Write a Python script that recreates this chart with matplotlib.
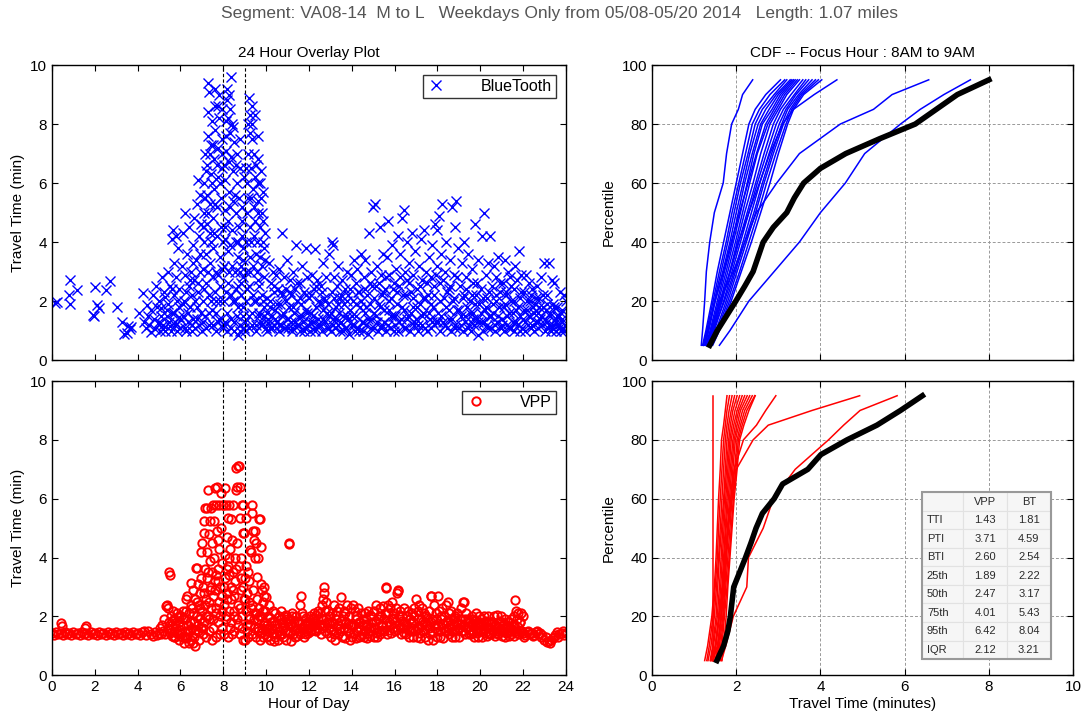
import numpy as np
import matplotlib
matplotlib.use("Agg")
import matplotlib.pyplot as plt

plt.rcParams['font.family'] = ['Liberation Sans', 'DejaVu Sans']

# ---- BlueTooth scatter (hour, travel time in min)
bt_early = [(0.14,1.94),(0.23,1.96),(0.83,2.73),(0.77,2.2),(0.83,1.89),(1.18,2.37),(1.9,1.53),(1.96,1.5),
            (2.02,2.46),(2.12,1.85),(2.19,1.75),(2.54,2.37),(2.71,2.69),(3.04,1.8),(3.27,1.3),(3.36,0.9),
            (3.5,0.92),(3.55,1.15),(3.7,1.13),(3.62,1.05),(4.05,1.58),(4.23,2.28),(4.3,1.3),(4.4,1.1),
            (4.45,1.85),(4.5,1.5)]
bt_morning = [(4.55,1.2),(4.6,0.95),(4.62,1.7),(4.7,2.2),(4.75,1.4),(4.8,1.05),(4.85,2.5),(4.9,1.8),(4.95,1.25),
              (5.0,2.0),(5.05,0.98),(5.1,1.5),(5.15,2.8),(5.2,1.2),(5.25,2.3),(5.3,1.0),(5.35,1.7),(5.4,3.0),
              (5.45,1.3),(5.5,2.5),
              (5.55,1.0),(5.6,4.1),(5.62,1.6),(5.65,4.4),(5.7,2.2),(5.72,3.3),(5.75,1.2),(5.78,4.2),(5.8,2.8),
              (5.85,1.0),(5.9,3.8),(5.92,1.8),(5.95,2.4),(6.0,1.1),(6.05,3.2),(6.1,4.3),(6.12,1.5),(6.15,2.0),
              (6.2,5.0),(6.22,2.9),(6.25,1.0),(6.3,3.6),(6.35,1.3),(6.38,2.5),(6.42,4.5),(6.45,1.8),(6.48,3.0),
              (6.52,1.0),(6.55,2.2),(6.58,3.9),(6.6,1.4),(6.62,4.8),(6.65,2.7),(6.7,1.1),(6.72,3.4),(6.75,5.3),
              (6.78,1.8),(6.8,6.1),(6.82,2.3),(6.85,4.2),(6.88,1.2),(6.9,3.0),(6.92,5.6),(6.95,1.6),(6.98,4.6)]
bt_peak = [(7.02,1.0),(7.04,2.0),(7.06,3.1),(7.08,4.0),(7.1,5.0),(7.12,6.0),(7.14,7.0),(7.16,1.5),(7.18,2.6),
           (7.2,3.6),(7.22,4.6),(7.24,5.6),(7.26,6.6),(7.28,7.6),(7.3,8.4),(7.32,1.2),(7.34,2.2),(7.36,3.3),
           (7.38,4.3),(7.4,5.3),(7.42,6.3),(7.44,7.3),(7.46,8.1),(7.3,9.4),(7.35,9.1),(7.48,1.7),(7.5,2.8),
           (7.52,3.8),(7.54,4.8),(7.56,5.8),(7.58,6.8),(7.6,7.8),(7.62,8.6),(7.64,1.0),(7.66,2.0),(7.68,3.0),
           (7.7,4.2),(7.72,5.2),(7.74,6.2),(7.76,7.2),(7.78,8.2),(7.8,9.0),(7.82,1.4),(7.84,2.5),(7.86,3.5),
           (7.88,4.5),(7.9,5.5),(7.92,6.5),(7.94,7.5),(7.96,8.5),(7.98,1.1),(7.6,9.2),(7.75,2.9),
           (8.02,2.0),(8.04,3.2),(8.06,4.1),(8.08,5.1),(8.1,6.1),(8.12,7.1),(8.14,8.1),(8.16,8.8),(8.18,1.0),
           (8.2,2.6),(8.22,3.7),(8.24,4.7),(8.26,5.7),(8.28,6.7),(8.3,7.7),(8.32,8.5),(8.36,9.6),(8.34,1.4),
           (8.38,2.2),(8.4,3.2),(8.42,4.4),(8.44,5.4),(8.46,6.4),(8.48,7.4),(8.15,9.2),(8.25,9.0),(8.4,8.0),
           (8.1,1.3),
           (8.52,1.0),(8.54,2.0),(8.56,3.0),(8.58,4.0),(8.6,5.0),(8.62,6.0),(8.64,7.0),(8.66,1.5),(8.68,2.5),
           (8.7,3.5),(8.72,4.5),(8.74,5.5),(8.76,6.5),(8.78,7.5),(8.8,1.2),(8.82,2.2),(8.84,3.2),(8.86,4.2),
           (8.88,5.2),(8.9,1.8),(8.92,2.8),(8.94,3.8),(8.96,6.2),(8.98,1.1),(8.7,0.85),
           (9.02,1.0),(9.04,2.0),(9.06,3.0),(9.08,4.0),(9.1,5.0),(9.12,6.0),(9.14,7.0),(9.16,8.0),(9.18,8.9),
           (9.2,1.5),(9.22,2.5),(9.24,3.5),(9.26,4.5),(9.28,5.5),(9.3,6.5),(9.32,7.5),(9.34,8.6),(9.36,1.2),
           (9.38,2.2),(9.4,3.2),(9.42,4.2),(9.44,5.2),(9.46,6.2),(9.48,8.3),(9.35,8.0),(9.45,7.0),
           (9.52,1.0),(9.54,2.0),(9.56,3.0),(9.58,4.0),(9.6,5.0),(9.62,6.0),(9.64,7.6),(9.66,1.5),(9.68,2.5),
           (9.7,3.5),(9.72,4.5),(9.74,5.5),(9.76,6.4),(9.78,1.2),(9.8,2.2),(9.82,3.2),(9.84,4.7),(9.86,5.7),
           (9.88,1.8),(9.9,2.8),(9.92,3.8),(9.95,4.3),(9.98,1.1),(9.6,6.8)]
bt_midday = [(10.02,1.0),(10.05,2.1),(10.09,1.4),(10.12,3.3),(10.16,1.8),(10.2,1.1),(10.23,2.6),(10.27,1.5),
             (10.31,3.0),(10.35,1.2),(10.39,2.3),(10.43,1.7),(10.47,2.9),
             (10.52,1.3),(10.55,2.4),(10.58,1.0),(10.62,3.1),(10.65,1.9),(10.69,1.2),(10.72,4.3),(10.76,2.2),
             (10.8,1.6),(10.84,2.8),(10.88,1.1),(10.92,2.0),(10.96,1.4),(10.99,3.4),
             (11.02,1.1),(11.06,1.8),(11.1,2.7),(11.14,1.3),(11.18,2.2),(11.22,1.0),(11.26,3.0),(11.3,1.6),
             (11.34,2.4),(11.38,3.9),(11.42,1.2),(11.46,2.0),
             (11.52,1.5),(11.56,2.6),(11.6,1.0),(11.64,1.9),(11.68,3.2),(11.72,1.3),(11.76,2.3),(11.8,1.1),
             (11.84,3.8),(11.88,1.7),(11.92,2.8),(11.96,1.2),
             (12.02,2.1),(12.06,1.0),(12.1,1.6),(12.14,2.9),(12.18,1.3),(12.22,2.4),(12.26,1.1),(12.3,3.75),
             (12.34,1.8),(12.38,2.7),(12.42,1.4),(12.46,2.0),
             (12.52,1.2),(12.56,2.5),(12.6,1.0),(12.64,1.7),(12.68,3.3),(12.72,2.1),(12.76,1.3),(12.8,2.8),
             (12.84,1.1),(12.88,1.9),(12.92,3.6),(12.96,1.5),
             (13.02,1.0),(13.06,2.3),(13.1,4.0),(13.12,3.9),(13.14,1.4),(13.18,2.8),(13.22,1.1),(13.26,1.8),
             (13.3,2.5),(13.34,1.2),(13.38,3.2),(13.42,1.6),(13.46,2.1),
             (13.52,1.3),(13.56,2.7),(13.6,1.0),(13.64,1.9),(13.68,2.4),(13.72,1.1),(13.76,3.0),(13.8,1.5),
             (13.84,2.2),(13.88,0.9),(13.92,1.7),(13.96,2.9)]
bt_afternoon = [(14.02,1.2),(14.06,2.0),(14.1,3.4),(14.14,1.0),(14.18,2.6),(14.22,1.5),(14.26,3.1),(14.3,1.1),
                (14.34,2.3),(14.38,1.8),(14.42,3.6),(14.46,1.3),
                (14.52,1.0),(14.56,2.8),(14.6,1.6),(14.64,3.4),(14.68,1.2),(14.72,2.2),(14.76,0.9),(14.8,4.3),
                (14.84,1.9),(14.88,3.0),(14.92,1.4),(14.96,2.5),(14.98,5.2),
                (15.02,1.1),(15.06,2.1),(15.1,5.3),(15.14,1.5),(15.18,3.2),(15.22,1.0),(15.26,2.6),(15.3,4.5),
                (15.34,1.8),(15.38,2.9),(15.42,1.2),(15.46,3.6),(15.48,2.3),
                (15.52,1.3),(15.56,2.4),(15.6,1.0),(15.64,3.5),(15.68,4.7),(15.72,1.7),(15.76,2.9),(15.8,1.1),
                (15.84,2.1),(15.88,3.9),(15.92,1.5),(15.96,2.6),(15.98,1.0),
                (16.02,1.2),(16.06,3.1),(16.1,1.9),(16.14,4.2),(16.18,1.0),(16.22,2.5),(16.26,3.6),(16.3,1.4),
                (16.34,4.8),(16.38,2.2),(16.42,5.1),(16.46,1.7),(16.48,3.0),
                (16.52,1.1),(16.56,2.7),(16.6,4.0),(16.64,1.5),(16.68,3.3),(16.72,1.0),(16.76,2.3),(16.8,4.3),
                (16.84,1.8),(16.88,2.9),(16.92,1.2),(16.96,3.7),
                (17.02,1.4),(17.06,2.4),(17.1,1.0),(17.14,3.2),(17.18,1.9),(17.22,4.1),(17.26,1.2),(17.3,2.7),
                (17.34,1.6),(17.38,4.4),(17.42,2.1),(17.46,3.0),
                (17.52,1.0),(17.56,2.2),(17.6,3.5),(17.64,1.4),(17.68,2.8),(17.72,1.1),(17.76,3.9),(17.8,1.8),
                (17.84,2.5),(17.88,4.6),(17.92,1.3),(17.96,3.2),(17.98,4.4)]
bt_evening = [(18.02,1.6),(18.06,4.9),(18.1,1.0),(18.14,2.6),(18.18,3.6),(18.22,5.3),(18.26,1.3),(18.3,2.1),
              (18.34,3.0),(18.38,1.8),(18.42,4.0),(18.46,1.1),
              (18.52,2.4),(18.56,1.4),(18.6,3.4),(18.64,1.0),(18.68,5.2),(18.72,2.0),(18.76,2.9),(18.8,1.2),
              (18.84,4.5),(18.88,5.4),(18.92,1.7),(18.96,3.8),
              (19.02,1.1),(19.06,2.5),(19.1,1.5),(19.14,3.3),(19.18,1.0),(19.22,2.2),(19.26,4.0),(19.3,1.3),
              (19.34,2.8),(19.38,1.8),(19.42,3.6),(19.46,1.2),
              (19.52,2.0),(19.56,1.0),(19.6,3.1),(19.64,1.6),(19.68,2.6),(19.72,1.2),(19.76,4.6),(19.8,2.2),
              (19.84,1.4),(19.88,3.4),(19.92,0.85),(19.96,1.9),
              (20.02,1.3),(20.06,2.4),(20.1,4.2),(20.14,1.0),(20.18,5.0),(20.22,1.7),(20.26,2.9),(20.3,1.2),
              (20.34,2.1),(20.38,3.3),(20.42,1.5),(20.46,4.2),
              (20.52,1.1),(20.56,2.5),(20.6,1.6),(20.64,3.2),(20.68,1.0),(20.72,2.0),(20.76,2.8),(20.8,1.3),
              (20.84,3.5),(20.88,1.8),(20.92,2.3),(20.96,1.1),
              (21.02,1.4),(21.06,2.6),(21.1,1.0),(21.14,3.4),(21.18,1.9),(21.22,2.3),(21.26,1.2),(21.3,3.0),
              (21.34,1.6),(21.38,2.8),(21.42,1.1),(21.46,2.0),
              (21.52,1.3),(21.56,2.4),(21.6,1.0),(21.64,3.2),(21.68,1.7),(21.72,2.7),(21.76,1.2),(21.8,3.7),
              (21.84,2.1),(21.88,1.5),(21.92,2.9),(21.96,1.1),
              (22.02,1.4),(22.06,2.3),(22.1,1.0),(22.14,2.9),(22.18,1.7),(22.22,1.2),(22.26,2.6),(22.3,1.5),
              (22.34,2.0),(22.38,1.1),(22.42,2.4),(22.46,1.8),
              (22.52,1.0),(22.56,1.9),(22.6,1.3),(22.64,2.5),(22.68,1.6),(22.72,1.1),(22.76,2.1),(22.8,1.4),
              (22.84,2.8),(22.88,1.2),(22.92,1.8),(22.96,3.3),
              (23.02,1.0),(23.06,1.7),(23.1,1.3),(23.14,2.2),(23.18,1.1),(23.22,3.3),(23.26,1.5),(23.3,1.0),
              (23.34,2.7),(23.38,1.9),(23.42,1.2),(23.46,2.6),
              (23.52,1.4),(23.56,1.0),(23.6,1.8),(23.64,1.2),(23.68,1.5),(23.72,2.3),(23.76,1.0),(23.8,1.3),
              (23.84,1.7),(23.88,1.1),(23.92,2.2),(23.96,1.2),(23.99,2.0)]
# dense core of the cloud
bt_core = [(5.03,1.25),(5.11,1.75),(5.19,1.05),(5.27,2.15),(5.35,1.5),(5.43,1.9),(5.52,1.15),(5.6,2.4),(5.68,1.6),
           (5.76,1.3),(5.84,2.0),(5.92,1.45),
           (6.03,1.35),(6.11,1.9),(6.19,1.1),(6.27,2.3),(6.35,1.6),(6.43,2.7),(6.52,1.2),(6.6,3.3),(6.68,2.0),
           (6.76,1.4),(6.84,2.6),(6.92,3.6),
           (7.03,1.3),(7.11,2.4),(7.19,1.1),(7.27,3.0),(7.35,1.6),(7.43,2.0),(7.52,1.2),(7.6,2.3),(7.68,1.6),
           (7.76,1.3),(7.84,2.0),(7.92,3.1),(7.05,4.5),(7.13,5.5),(7.21,6.4),(7.29,5.0),(7.37,7.0),(7.45,6.0),
           (7.53,7.3),(7.61,5.3),(7.69,6.6),(7.77,8.6),(7.85,6.0),(7.93,7.0),(7.97,4.0),(7.41,4.0),(7.57,4.3),
           (8.03,1.2),(8.11,2.3),(8.19,1.6),(8.27,3.0),(8.35,1.1),(8.43,2.0),(8.52,1.3),(8.6,2.4),(8.68,1.8),
           (8.76,1.0),(8.84,2.6),(8.92,1.5),(8.05,6.6),(8.13,7.6),(8.21,8.2),(8.29,5.2),(8.37,6.9),(8.45,7.9),
           (8.53,5.6),(8.61,6.6),(8.69,4.0),(8.77,3.0),(8.85,4.7),(8.93,3.4),(8.1,4.5),(8.33,3.9),
           (9.03,1.3),(9.11,2.4),(9.19,1.1),(9.27,3.0),(9.35,1.6),(9.43,2.0),(9.52,1.2),(9.6,2.7),(9.68,1.6),
           (9.76,1.3),(9.84,2.0),(9.92,1.5),(9.07,6.5),(9.15,5.5),(9.23,7.7),(9.31,4.0),(9.39,5.8),(9.47,4.7),
           (9.55,6.6),(9.63,5.4),(9.71,6.0),(9.79,5.0),(9.87,4.0),(9.95,3.4),(9.27,8.3),(9.51,3.6),
           (10.03,1.6),(10.11,1.25),(10.19,2.0),(10.27,1.1),(10.35,2.5),(10.43,1.4),(10.52,1.9),(10.6,1.2),
           (10.68,2.3),(10.76,1.5),(10.84,1.1),(10.92,2.4),
           (11.03,1.4),(11.11,2.3),(11.19,1.1),(11.27,1.8),(11.35,1.3),(11.43,2.6),(11.52,1.2),(11.6,2.1),
           (11.68,1.5),(11.76,1.0),(11.84,2.2),(11.92,1.6),
           (12.03,1.3),(12.11,2.2),(12.19,1.5),(12.27,1.0),(12.35,2.5),(12.43,1.2),(12.52,1.9),(12.6,2.3),
           (12.68,1.4),(12.76,2.0),(12.84,1.6),(12.92,1.1),
           (13.03,1.6),(13.11,1.2),(13.19,2.1),(13.27,1.4),(13.35,1.9),(13.43,1.0),(13.52,2.2),(13.6,1.5),
           (13.68,1.1),(13.76,2.0),(13.84,1.4),(13.92,2.4),
           (14.03,1.5),(14.11,1.2),(14.19,1.9),(14.27,2.3),(14.35,1.0),(14.43,2.0),(14.52,1.3),(14.6,2.4),
           (14.68,1.8),(14.76,1.4),(14.84,2.6),(14.92,1.1),
           (15.03,1.6),(15.11,2.5),(15.19,1.3),(15.27,1.9),(15.35,1.1),(15.43,2.2),(15.52,1.7),(15.6,2.8),
           (15.68,1.2),(15.76,2.0),(15.84,1.5),(15.92,2.4),
           (16.03,1.5),(16.11,2.3),(16.19,1.3),(16.27,2.8),(16.35,1.8),(16.43,1.1),(16.52,2.2),(16.6,1.4),
           (16.68,2.6),(16.76,1.6),(16.84,2.1),(16.92,1.3),
           (17.03,1.8),(17.11,1.2),(17.19,2.5),(17.27,1.5),(17.35,2.1),(17.43,1.1),(17.52,2.6),(17.6,1.6),
           (17.68,1.9),(17.76,1.3),(17.84,2.2),(17.92,2.9),
           (18.03,1.3),(18.11,2.0),(18.19,1.5),(18.27,2.7),(18.35,1.2),(18.43,2.3),(18.52,1.7),(18.6,2.5),
           (18.68,1.4),(18.76,2.1),(18.84,1.1),(18.92,2.8),
           (19.03,1.7),(19.11,1.2),(19.19,2.1),(19.27,1.5),(19.35,2.4),(19.43,1.1),(19.52,1.6),(19.6,2.2),
           (19.68,1.4),(19.76,1.9),(19.84,2.6),(19.92,1.3),
           (20.03,1.6),(20.11,2.1),(20.19,1.3),(20.27,1.8),(20.35,1.1),(20.43,2.3),(20.52,1.5),(20.6,1.9),
           (20.68,1.2),(20.76,2.2),(20.84,1.5),(20.92,2.6),
           (21.03,1.2),(21.11,1.8),(21.19,2.2),(21.27,1.5),(21.35,1.1),(21.43,2.5),(21.52,1.6),(21.6,2.0),
           (21.68,1.3),(21.76,1.8),(21.84,1.0),(21.92,2.3),
           (22.03,1.7),(22.11,1.3),(22.19,2.0),(22.27,1.5),(22.35,2.2),(22.43,1.2),(22.52,1.6),(22.6,2.1),
           (22.68,1.3),(22.76,1.8),(22.84,1.5),(22.92,2.2),
           (23.03,1.4),(23.11,1.9),(23.19,1.2),(23.27,1.6),(23.35,1.1),(23.43,1.8),(23.52,1.3),(23.6,1.5),
           (23.68,1.1),(23.76,1.6),(23.84,1.4),(23.92,1.0)]

# ---- VPP scatter (hour, travel time in min)
vpp_night = [(0.0,1.42),(0.1,1.38),(0.2,1.46),(0.3,1.4),(0.4,1.44),(0.5,1.38),(0.6,1.46),(0.7,1.4),(0.8,1.44),
             (0.9,1.38),(1.0,1.46),(1.1,1.4),(1.2,1.44),(1.3,1.38),(1.4,1.46),(1.5,1.4),(1.6,1.44),(1.7,1.38),
             (1.8,1.46),(1.9,1.4),(2.0,1.44),(2.1,1.38),(2.2,1.46),(2.3,1.4),(2.4,1.44),(2.5,1.38),(2.6,1.46),
             (2.7,1.4),(2.8,1.44),(2.9,1.38),(3.0,1.46),(3.1,1.4),(3.2,1.44),(3.3,1.38),(3.4,1.46),(3.5,1.4),
             (3.6,1.44),(3.7,1.38),(3.8,1.46),(3.9,1.4),(4.0,1.44),(4.1,1.38),(4.2,1.46),(4.3,1.5),(4.4,1.36),
             (4.5,1.52),(4.6,1.4),(4.7,1.34),(4.8,1.48),(4.9,1.38),(0.4,1.78),(0.45,1.68),(1.57,1.68),(1.55,1.62)]
vpp_morning = [(5.0,1.45),(5.05,1.6),(5.1,1.4),(5.15,1.7),(5.2,1.5),(5.25,1.9),(5.3,1.4),(5.32,2.35),(5.36,2.4),
               (5.4,1.6),(5.42,2.3),(5.45,1.8),(5.48,3.5),(5.5,3.4),(5.5,1.45),(5.55,2.0),(5.6,1.35),(5.62,1.7),
               (5.65,2.2),(5.7,1.5),(5.72,1.9),(5.75,1.3),(5.8,1.6),(5.85,2.1),(5.9,1.4),(5.92,1.8),(5.95,1.2),
               (6.0,1.55),(6.02,2.0),(6.05,1.3),(6.1,1.7),(6.12,2.2),(6.15,1.1),(6.2,1.5),(6.22,1.9),(6.25,2.6),
               (6.3,1.3),(6.32,2.7),(6.35,1.7),(6.4,1.1),(6.42,2.1),(6.45,1.5),(6.48,2.4),(6.5,3.15),(6.5,1.2),
               (6.52,1.6),(6.55,2.3),(6.58,1.1),(6.6,2.9),(6.62,1.8),(6.65,1.3),(6.68,2.6),(6.7,1.0),(6.72,3.65),
               (6.75,3.65),(6.78,2.0),(6.8,1.5),(6.82,3.1),(6.85,2.4),(6.88,1.2),(6.9,1.9),(6.92,2.8),(6.95,4.2),
               (6.98,1.6),(6.97,3.3)]
vpp_peak = [(7.0,4.5),(7.02,2.2),(7.04,1.4),(7.06,3.0),(7.08,4.85),(7.1,5.25),(7.12,1.8),(7.14,3.6),(7.16,5.7),
            (7.18,2.6),(7.2,1.3),(7.22,4.2),(7.24,5.7),(7.26,3.3),(7.28,2.0),(7.3,6.3),(7.32,4.8),(7.34,1.5),
            (7.36,2.9),(7.38,5.25),(7.4,3.9),(7.42,5.7),(7.44,2.3),(7.46,1.2),(7.48,4.5),(7.49,3.5),(7.15,2.4),
            (7.35,1.9),
            (7.5,5.8),(7.52,2.7),(7.54,1.6),(7.56,4.0),(7.58,5.25),(7.6,6.35),(7.62,3.2),(7.64,1.3),(7.66,2.1),
            (7.68,5.8),(7.7,4.9),(7.72,6.4),(7.74,3.6),(7.76,1.8),(7.78,2.5),(7.8,5.8),(7.82,4.3),(7.84,1.4),
            (7.86,3.0),(7.88,5.0),(7.9,6.2),(7.92,2.2),(7.94,3.8),(7.96,1.6),(7.98,5.8),(7.75,4.6),(7.65,3.4),
            (8.0,5.8),(8.02,2.4),(8.04,1.4),(8.06,4.1),(8.08,6.35),(8.1,3.3),(8.12,5.8),(8.14,1.9),(8.16,2.8),
            (8.18,4.7),(8.2,5.35),(8.22,1.3),(8.24,3.7),(8.26,5.8),(8.28,2.2),(8.3,4.3),(8.32,1.6),(8.34,3.0),
            (8.36,5.3),(8.38,2.6),(8.4,4.6),(8.42,1.4),(8.44,3.5),(8.46,5.8),(8.48,2.0),(8.25,4.0),(8.15,3.6),
            (8.5,2.7),(8.52,1.5),(8.54,4.0),(8.56,3.2),(8.58,6.3),(8.6,7.05),(8.62,1.9),(8.64,4.5),(8.66,6.4),
            (8.68,7.1),(8.7,2.4),(8.72,3.7),(8.74,7.1),(8.76,1.4),(8.78,6.4),(8.8,5.35),(8.82,2.9),(8.84,3.3),
            (8.86,5.8),(8.88,2.0),(8.9,4.85),(8.92,1.2),(8.94,5.8),(8.96,4.85),(8.98,2.6),(8.85,1.6),
            (9.0,3.3),(9.02,1.2),(9.04,2.2),(9.06,5.35),(9.08,3.7),(9.1,1.7),(9.12,2.8),(9.14,3.5),(9.16,1.3),
            (9.18,2.5),(9.2,3.2),(9.22,1.9),(9.25,4.25),(9.28,2.3),(9.3,4.2),(9.32,1.4),(9.34,5.8),(9.36,5.5),
            (9.38,2.9),(9.4,4.9),(9.42,4.6),(9.44,1.6),(9.46,4.0),(9.48,2.1),(9.5,4.9),
            (9.52,4.5),(9.54,1.3),(9.56,2.6),(9.58,3.35),(9.6,1.9),(9.62,4.0),(9.64,1.5),(9.66,5.3),(9.68,2.3),
            (9.7,5.3),(9.72,1.2),(9.74,3.1),(9.76,2.0),(9.78,4.35),(9.8,1.6),(9.82,2.9),(9.84,1.3),(9.86,2.5),
            (9.88,3.0),(9.9,1.8),(9.92,2.7),(9.94,1.4),(9.96,2.2),(9.98,2.65),(10.0,1.5)]
vpp_midday = [(10.03,1.3),(10.07,2.0),(10.11,1.6),(10.15,2.4),(10.19,1.2),(10.23,1.8),(10.27,1.45),(10.31,2.2),
              (10.35,1.15),(10.39,1.7),(10.43,2.1),(10.47,1.4),
              (10.53,1.6),(10.57,1.2),(10.61,2.0),(10.65,1.4),(10.69,2.2),(10.73,1.8),(10.77,1.3),(10.81,1.6),
              (10.85,2.0),(10.89,1.5),(10.93,1.2),(10.97,1.9),
              (11.03,1.5),(11.05,4.45),(11.07,4.5),(11.1,1.9),(11.14,1.15),(11.18,1.7),(11.22,2.1),(11.26,1.4),
              (11.3,1.8),(11.34,1.3),(11.38,2.0),(11.42,1.6),(11.46,1.35),
              (11.52,1.8),(11.56,1.4),(11.6,2.4),(11.64,2.7),(11.68,1.6),(11.72,2.0),(11.76,1.3),(11.8,1.7),
              (11.84,1.95),(11.88,1.5),(11.92,1.8),(11.96,1.45),
              (12.02,1.6),(12.06,2.0),(12.1,1.5),(12.14,1.9),(12.18,1.7),(12.22,2.1),(12.26,1.55),(12.3,1.85),
              (12.34,2.05),(12.38,1.6),(12.42,1.9),(12.46,1.7),
              (12.52,2.1),(12.56,1.4),(12.6,2.4),(12.64,1.7),(12.68,2.6),(12.7,3.0),(12.72,2.8),(12.76,1.5),
              (12.8,2.5),(12.84,1.8),(12.88,2.2),(12.92,1.6),(12.96,2.0),
              (13.02,1.3),(13.06,1.8),(13.1,2.1),(13.14,1.5),(13.18,2.4),(13.22,1.2),(13.26,1.9),(13.3,2.2),
              (13.34,1.4),(13.38,1.7),(13.42,2.3),(13.46,1.6),(13.5,2.65),
              (13.54,1.3),(13.58,2.0),(13.62,1.6),(13.66,2.2),(13.7,1.25),(13.74,1.8),(13.78,2.4),(13.82,1.5),
              (13.86,2.0),(13.9,1.2),(13.94,1.7),(13.98,2.3),
              (14.02,1.3),(14.06,2.4),(14.1,1.7),(14.14,2.2),(14.18,1.25),(14.22,1.9),(14.26,1.5),(14.3,2.3),
              (14.34,1.3),(14.38,1.8),(14.42,2.1),(14.46,1.4),
              (14.52,1.7),(14.56,1.3),(14.6,2.1),(14.64,1.5),(14.68,1.9),(14.72,1.25),(14.76,2.2),(14.8,1.6),
              (14.84,1.35),(14.88,2.0),(14.92,1.5),(14.96,1.8),
              (15.02,1.3),(15.06,2.2),(15.1,1.6),(15.14,2.4),(15.18,1.3),(15.22,1.9),(15.26,1.5),(15.3,2.3),
              (15.34,1.4),(15.38,2.0),(15.42,1.7),(15.46,2.35),
              (15.52,1.5),(15.56,2.1),(15.6,3.0),(15.62,2.95),(15.66,1.4),(15.7,2.4),(15.74,1.8),(15.78,2.3),
              (15.82,1.45),(15.86,1.9),(15.9,2.5),(15.94,1.6),(15.98,2.1)]
vpp_evening = [(16.02,1.5),(16.06,2.3),(16.1,2.8),(16.14,2.9),(16.18,2.85),(16.22,1.7),(16.26,2.2),(16.3,1.4),
               (16.34,2.0),(16.38,1.6),(16.42,2.3),(16.46,1.8),
               (16.52,1.4),(16.56,2.0),(16.6,1.7),(16.64,2.2),(16.68,1.3),(16.72,1.9),(16.76,1.5),(16.8,2.1),
               (16.84,1.3),(16.88,1.8),(16.92,2.3),(16.96,1.5),(17.0,2.6),
               (17.04,1.3),(17.08,2.2),(17.12,1.6),(17.16,2.4),(17.2,1.25),(17.24,1.9),(17.28,2.3),(17.32,1.5),
               (17.36,2.1),(17.4,1.3),(17.44,1.8),(17.48,2.0),
               (17.52,1.7),(17.56,1.2),(17.6,2.2),(17.64,1.4),(17.68,2.7),(17.72,2.7),(17.76,1.9),(17.8,1.2),
               (17.84,2.4),(17.88,1.6),(17.92,2.1),(17.96,1.3),
               (18.02,2.7),(18.04,1.5),(18.08,2.2),(18.12,1.3),(18.16,1.9),(18.2,2.3),(18.24,1.6),(18.28,1.25),
               (18.32,2.0),(18.36,1.5),(18.4,2.4),(18.44,1.8),(18.48,2.5),
               (18.52,1.4),(18.56,2.1),(18.6,1.7),(18.64,2.2),(18.68,1.3),(18.72,1.9),(18.76,1.5),(18.8,2.0),
               (18.84,1.3),(18.88,1.8),(18.92,2.1),(18.96,1.6),
               (19.02,1.3),(19.06,1.9),(19.1,2.3),(19.14,1.5),(19.18,2.5),(19.22,2.5),(19.26,1.7),(19.3,1.4),
               (19.34,2.1),(19.38,1.6),(19.42,1.9),(19.46,1.4),
               (19.52,1.8),(19.56,1.4),(19.6,2.0),(19.64,1.5),(19.68,1.9),(19.72,1.3),(19.76,1.7),(19.8,2.1),
               (19.84,1.45),(19.88,1.8),(19.92,1.3),(19.96,2.0),
               (20.02,1.5),(20.06,1.9),(20.1,1.3),(20.14,1.7),(20.18,2.0),(20.22,1.45),(20.26,1.8),(20.3,1.35),
               (20.34,1.6),(20.38,2.0),(20.42,1.4),(20.46,1.75),
               (20.52,1.4),(20.56,1.8),(20.6,1.5),(20.64,2.0),(20.68,1.35),(20.72,1.7),(20.76,1.5),(20.8,2.05),
               (20.84,1.4),(20.88,1.8),(20.92,1.55),(20.96,2.0),
               (21.02,1.35),(21.06,1.7),(21.1,1.5),(21.14,1.9),(21.18,1.3),(21.22,1.65),(21.26,1.45),(21.3,1.8),
               (21.34,1.35),(21.38,1.6),(21.42,1.9),(21.46,1.5),
               (21.52,1.7),(21.56,1.35),(21.6,2.0),(21.64,2.55),(21.66,2.2),(21.7,1.5),(21.74,1.9),(21.78,2.1),
               (21.82,1.4),(21.86,1.8),(21.9,2.1),(21.94,1.5),(21.98,2.0)]
vpp_late = [(22.0,1.42),(22.1,1.38),(22.2,1.46),(22.3,1.4),(22.4,1.44),(22.5,1.38),(22.6,1.46),(22.7,1.4),
            (22.8,1.44),(22.9,1.38),(23.0,1.2),(23.1,1.12),(23.2,1.15),(23.3,1.2),(23.4,1.25),(23.5,1.38),
            (23.6,1.46),(23.7,1.4),(23.8,1.44),(23.9,1.38),(24.0,1.42),(22.05,1.3),(22.25,1.52),(22.45,1.32),
            (22.65,1.5),(22.85,1.3),(23.05,1.3),(23.25,1.1),(23.45,1.3),(23.65,1.3),(23.85,1.5)]
vpp_core = [(5.53,1.55),(5.6,1.85),(5.68,1.3),(5.76,1.7),(5.84,1.45),(5.92,2.0),
            (6.03,1.4),(6.11,1.9),(6.19,1.25),(6.27,2.2),(6.35,1.5),(6.43,1.8),(6.52,1.35),(6.6,2.1),(6.68,1.55),
            (6.76,2.5),(6.84,1.7),(6.92,2.3),
            (7.03,1.6),(7.11,2.8),(7.19,2.0),(7.27,3.5),(7.35,2.5),(7.43,3.0),(7.52,1.9),(7.6,2.9),(7.68,2.3),
            (7.76,3.2),(7.84,2.0),(7.92,2.7),
            (8.03,3.0),(8.11,2.0),(8.19,2.6),(8.27,3.4),(8.35,1.8),(8.43,2.9),(8.52,2.2),(8.6,3.6),(8.68,1.7),
            (8.76,2.3),(8.84,4.0),(8.92,3.0),
            (9.03,2.6),(9.11,1.5),(9.19,2.0),(9.27,1.7),(9.35,2.4),(9.43,1.9),(9.52,2.1),(9.6,1.6),(9.68,2.0),
            (9.76,1.45),(9.84,2.2),(9.92,1.7),
            (10.03,1.7),(10.11,1.35),(10.19,1.95),(10.27,1.6),(10.35,1.85),(10.43,1.3),(10.52,1.75),(10.6,1.5),
            (10.68,1.9),(10.76,1.4),(10.84,1.7),(10.92,2.05),
            (11.03,1.75),(11.11,1.45),(11.19,2.0),(11.27,1.65),(11.35,1.55),(11.43,1.85),(11.52,1.5),(11.6,1.75),
            (11.68,2.1),(11.76,1.6),(11.84,1.4),(11.92,1.75),
            (12.03,1.8),(12.11,1.55),(12.19,1.95),(12.27,1.7),(12.35,1.5),(12.43,2.2),(12.52,1.75),(12.6,1.6),
            (12.68,1.9),(12.76,2.2),(12.84,1.45),(12.92,1.8),
            (13.03,1.55),(13.11,1.75),(13.19,1.4),(13.27,2.05),(13.35,1.7),(13.43,1.5),(13.52,1.85),(13.6,1.35),
            (13.68,2.1),(13.76,1.6),(13.84,1.75),(13.92,1.45),
            (14.03,1.7),(14.11,1.45),(14.19,2.0),(14.27,1.6),(14.35,1.8),(14.43,1.35),(14.52,1.9),(14.6,1.55),
            (14.68,1.75),(14.76,1.45),(14.84,2.05),(14.92,1.65),
            (15.03,1.6),(15.11,1.85),(15.19,1.45),(15.27,2.0),(15.35,1.7),(15.43,1.55),(15.52,1.9),(15.6,1.7),
            (15.68,2.1),(15.76,1.55),(15.84,1.75),(15.92,1.95),
            (16.03,1.8),(16.11,1.55),(16.19,2.0),(16.27,1.65),(16.35,1.85),(16.43,1.45),(16.52,1.75),(16.6,2.0),
            (16.68,1.55),(16.76,1.8),(16.84,1.6),(16.92,2.0),
            (17.03,1.6),(17.11,1.9),(17.19,1.45),(17.27,1.7),(17.35,1.85),(17.43,1.55),(17.52,1.95),(17.6,1.6),
            (17.68,1.8),(17.76,1.5),(17.84,1.7),(17.92,1.9),
            (18.03,1.7),(18.11,1.5),(18.19,2.0),(18.27,1.75),(18.35,1.55),(18.43,1.85),(18.52,1.6),(18.6,1.9),
            (18.68,1.5),(18.76,1.7),(18.84,1.95),(18.92,1.55),
            (19.03,1.6),(19.11,1.75),(19.19,1.5),(19.27,1.9),(19.35,1.65),(19.43,1.8),(19.52,1.55),(19.6,1.7),
            (19.68,1.45),(19.76,1.85),(19.84,1.6),(19.92,1.75),
            (20.03,1.7),(20.11,1.5),(20.19,1.6),(20.27,1.85),(20.35,1.45),(20.43,1.65),(20.52,1.8),(20.6,1.55),
            (20.68,1.7),(20.76,1.45),(20.84,1.65),(20.92,1.85),
            (21.03,1.55),(21.11,1.75),(21.19,1.45),(21.27,1.6),(21.35,1.8),(21.43,1.4),(21.52,1.55),(21.6,1.75),
            (21.68,1.45),(21.76,1.65),(21.84,1.8),(21.92,1.5)]

# ---- CDF curves: travel time (min) at each percentile
pct = [5, 10, 20, 30, 40, 50, 60, 70, 80, 85, 90, 95]
bt_curves = [
    [1.17, 1.20, 1.25, 1.29, 1.37, 1.48, 1.69, 1.77, 1.89, 2.05, 2.15, 2.39],
    [1.20, 1.28, 1.42, 1.55, 1.70, 1.85, 2.00, 2.15, 2.30, 2.45, 2.70, 3.05],
    [1.22, 1.30, 1.45, 1.60, 1.76, 1.90, 2.06, 2.22, 2.38, 2.55, 2.80, 3.15],
    [1.25, 1.33, 1.48, 1.64, 1.80, 1.95, 2.10, 2.28, 2.45, 2.62, 2.90, 3.20],
    [1.26, 1.35, 1.50, 1.68, 1.85, 2.00, 2.16, 2.32, 2.52, 2.70, 2.95, 3.28],
    [1.28, 1.38, 1.55, 1.72, 1.90, 2.05, 2.20, 2.38, 2.58, 2.78, 3.00, 3.32],
    [1.30, 1.40, 1.58, 1.76, 1.93, 2.10, 2.26, 2.42, 2.62, 2.85, 3.05, 3.36],
    [1.22, 1.32, 1.50, 1.70, 1.88, 2.08, 2.28, 2.48, 2.70, 2.90, 3.10, 3.40],
    [1.32, 1.42, 1.62, 1.80, 1.98, 2.15, 2.32, 2.50, 2.75, 2.95, 3.15, 3.45],
    [1.34, 1.45, 1.66, 1.85, 2.02, 2.20, 2.40, 2.58, 2.80, 3.00, 3.20, 3.50],
    [1.28, 1.40, 1.62, 1.86, 2.06, 2.26, 2.46, 2.66, 2.88, 3.05, 3.30, 3.58],
    [1.36, 1.48, 1.70, 1.90, 2.10, 2.30, 2.50, 2.72, 2.95, 3.12, 3.38, 3.65],
    [1.30, 1.45, 1.72, 1.95, 2.16, 2.36, 2.56, 2.78, 3.02, 3.18, 3.42, 3.72],
    [1.38, 1.52, 1.76, 1.98, 2.20, 2.42, 2.62, 2.84, 3.08, 3.22, 3.48, 3.80],
    [1.40, 1.55, 1.80, 2.02, 2.24, 2.46, 2.66, 2.88, 3.12, 3.28, 3.52, 3.88],
    [1.42, 1.58, 1.84, 2.08, 2.30, 2.52, 2.72, 2.94, 3.18, 3.32, 3.56, 3.95],
    [1.44, 1.60, 1.88, 2.12, 2.36, 2.58, 2.80, 3.00, 3.22, 3.36, 3.60, 4.03],
    [1.30, 1.45, 1.65, 1.85, 2.05, 2.30, 2.55, 2.80, 3.10, 3.36, 3.85, 4.39],
    [1.30, 1.45, 1.60, 1.93, 2.20, 2.48, 2.96, 3.50, 4.47, 5.26, 5.70, 6.57],
    [1.60, 1.85, 2.30, 2.90, 3.50, 4.00, 4.59, 5.05, 5.90, 6.37, 6.93, 7.56],
]
vpp_curves = [
    [1.45, 1.45, 1.45, 1.45, 1.45, 1.45, 1.45, 1.45, 1.45, 1.45, 1.45, 1.45],
    [1.25, 1.32, 1.42, 1.48, 1.52, 1.55, 1.58, 1.62, 1.65, 1.70, 1.74, 1.78],
    [1.30, 1.36, 1.45, 1.50, 1.55, 1.58, 1.62, 1.66, 1.70, 1.74, 1.78, 1.84],
    [1.33, 1.40, 1.48, 1.53, 1.58, 1.62, 1.66, 1.70, 1.74, 1.78, 1.83, 1.90],
    [1.38, 1.44, 1.52, 1.56, 1.60, 1.65, 1.70, 1.74, 1.78, 1.82, 1.88, 1.96],
    [1.40, 1.46, 1.55, 1.60, 1.64, 1.68, 1.72, 1.77, 1.82, 1.86, 1.92, 2.02],
    [1.44, 1.50, 1.58, 1.63, 1.67, 1.71, 1.75, 1.80, 1.85, 1.90, 1.97, 2.08],
    [1.46, 1.52, 1.60, 1.66, 1.70, 1.74, 1.78, 1.83, 1.88, 1.94, 2.02, 2.14],
    [1.50, 1.56, 1.63, 1.68, 1.72, 1.76, 1.81, 1.86, 1.92, 1.98, 2.06, 2.20],
    [1.52, 1.58, 1.65, 1.71, 1.75, 1.79, 1.84, 1.89, 1.95, 2.02, 2.10, 2.26],
    [1.55, 1.60, 1.68, 1.73, 1.77, 1.82, 1.87, 1.92, 1.98, 2.06, 2.15, 2.32],
    [1.58, 1.63, 1.70, 1.75, 1.80, 1.85, 1.90, 1.96, 2.02, 2.10, 2.20, 2.38],
    [1.62, 1.66, 1.72, 1.78, 1.83, 1.88, 1.93, 1.99, 2.05, 2.14, 2.25, 2.44],
    [1.66, 1.70, 1.76, 1.80, 1.85, 1.90, 1.95, 2.02, 2.08, 2.18, 2.30, 2.45],
    [1.45, 1.55, 1.65, 1.70, 1.75, 1.80, 1.87, 1.95, 2.17, 2.48, 2.70, 2.94],
    [1.40, 1.50, 1.60, 1.68, 1.74, 1.80, 1.90, 2.00, 2.40, 2.76, 3.80, 4.93],
    [1.65, 1.75, 1.93, 2.25, 2.29, 2.64, 2.88, 3.40, 4.19, 4.55, 4.94, 5.82],
]
pct_fine = [5, 10, 15, 20, 25, 30, 35, 40, 45, 50, 55, 60, 65, 70, 75, 80, 85, 90, 95]
bt_agg = [1.37, 1.55, 1.77, 1.99, 2.2, 2.4, 2.52, 2.64, 2.88, 3.2, 3.38, 3.6, 4.0, 4.6, 5.4, 6.25, 6.75, 7.25, 8.0]
vpp_agg = [1.54, 1.7, 1.8, 1.86, 1.9, 1.94, 2.08, 2.22, 2.35, 2.47, 2.62, 2.9, 3.1, 3.7, 4.01, 4.63, 5.34, 5.9, 6.42]

# ---- summary table
row_names = ["TTI", "PTI", "BTI", "25th", "50th", "75th", "95th", "IQR"]
vpp_stats = ["1.43", "3.71", "2.60", "1.89", "2.47", "4.01", "6.42", "2.12"]
bt_stats = ["1.81", "4.59", "2.54", "2.22", "3.17", "5.43", "8.04", "3.21"]

fig = plt.figure(figsize=(10.84, 7.23), dpi=100)
ax_bt = fig.add_axes([0.048, 0.502, 0.474, 0.408])
ax_vpp = fig.add_axes([0.048, 0.066, 0.474, 0.407])
ax_cbt = fig.add_axes([0.6015, 0.502, 0.3885, 0.408])
ax_cvpp = fig.add_axes([0.6015, 0.066, 0.3885, 0.407])

fig.suptitle("Segment: VA08-14  M to L   Weekdays Only from 05/08-05/20 2014   Length: 1.07 miles",
             x=0.516, y=0.992, fontsize=12.5, color="#555555", va="top")


def style(ax):
    ax.tick_params(direction="in", top=True, right=True, length=4, labelsize=11, width=0.8)
    for s in ax.spines.values():
        s.set_linewidth(1.0)


bt = np.array(bt_early + bt_morning + bt_peak + bt_midday + bt_afternoon + bt_evening + bt_core)
ax_bt.plot(bt[:, 0], bt[:, 1], "x", color="blue", ms=7.5, mew=1.0, label="BlueTooth")
vpp = np.array(vpp_night + vpp_morning + vpp_peak + vpp_midday + vpp_evening + vpp_late + vpp_core)
ax_vpp.plot(vpp[:, 0], vpp[:, 1], "o", mfc="none", mec="red", ms=6, mew=1.4, label="VPP")

for ax in (ax_bt, ax_vpp):
    ax.set_xlim(0, 24)
    ax.set_ylim(0, 10)
    ax.set_xticks(range(0, 25, 2))
    ax.set_yticks(range(0, 11, 2))
    ax.axvline(8, color="black", ls=(0, (3, 2)), lw=0.8)
    ax.axvline(9, color="black", ls=(0, (3, 2)), lw=0.8)
    ax.set_ylabel("Travel Time (min)", fontsize=11)
    style(ax)
    leg = ax.legend(loc="upper right", fontsize=11.5, fancybox=False, edgecolor="black",
                    handletextpad=2.2, borderpad=0.25, borderaxespad=0.6, handlelength=1.2)
    leg.get_frame().set_linewidth(1.0)
ax_bt.set_xticklabels([])
ax_bt.set_title("24 Hour Overlay Plot", fontsize=11, pad=6)
ax_vpp.set_xlabel("Hour of Day", fontsize=11, labelpad=2)

for xs in bt_curves:
    ax_cbt.plot(xs, pct, color="blue", lw=1.1)
ax_cbt.plot(bt_agg, pct_fine, color="black", lw=4)
for xs in vpp_curves:
    ax_cvpp.plot(xs, pct, color="red", lw=1.1)
ax_cvpp.plot(vpp_agg, pct_fine, color="black", lw=4)

for ax in (ax_cbt, ax_cvpp):
    ax.set_xlim(0, 10)
    ax.set_ylim(0, 100)
    ax.set_xticks(range(0, 11, 2))
    ax.set_yticks(range(0, 101, 20))
    ax.grid(True, color="#999999", ls=(0, (3, 2)), lw=0.7)
    ax.set_ylabel("Percentile", fontsize=11)
    style(ax)
ax_cbt.set_xticklabels([])
ax_cbt.set_title("CDF -- Focus Hour : 8AM to 9AM", fontsize=11, pad=6)
ax_cvpp.set_xlabel("Travel Time (minutes)", fontsize=11, labelpad=2)

cells = [["", "VPP", "BT"]] + [[r, v, b] for r, v, b in zip(row_names, vpp_stats, bt_stats)]
tab = ax_cvpp.table(cellText=cells, bbox=[0.641, 0.055, 0.306, 0.567], cellLoc="left",
                    colWidths=[0.32, 0.34, 0.34], zorder=5)
tab.auto_set_font_size(False)
tab.set_fontsize(8)
for (r, c), cell in tab.get_celld().items():
    cell.set_facecolor("#f6f6f6")
    cell.set_edgecolor("#e2e2e2")
    cell.set_linewidth(0.8)
    cell.get_text().set_color("#2a2a2a")
    if c > 0:
        cell.get_text().set_horizontalalignment("center")
        cell.PAD = 0.0
    else:
        cell.PAD = 0.12
frame = plt.Rectangle((0.641, 0.055), 0.306, 0.567, transform=ax_cvpp.transAxes, fill=False,
                      edgecolor="#999999", lw=1.5, zorder=6)
ax_cvpp.add_patch(frame)

fig.savefig("out.png", dpi=100)
